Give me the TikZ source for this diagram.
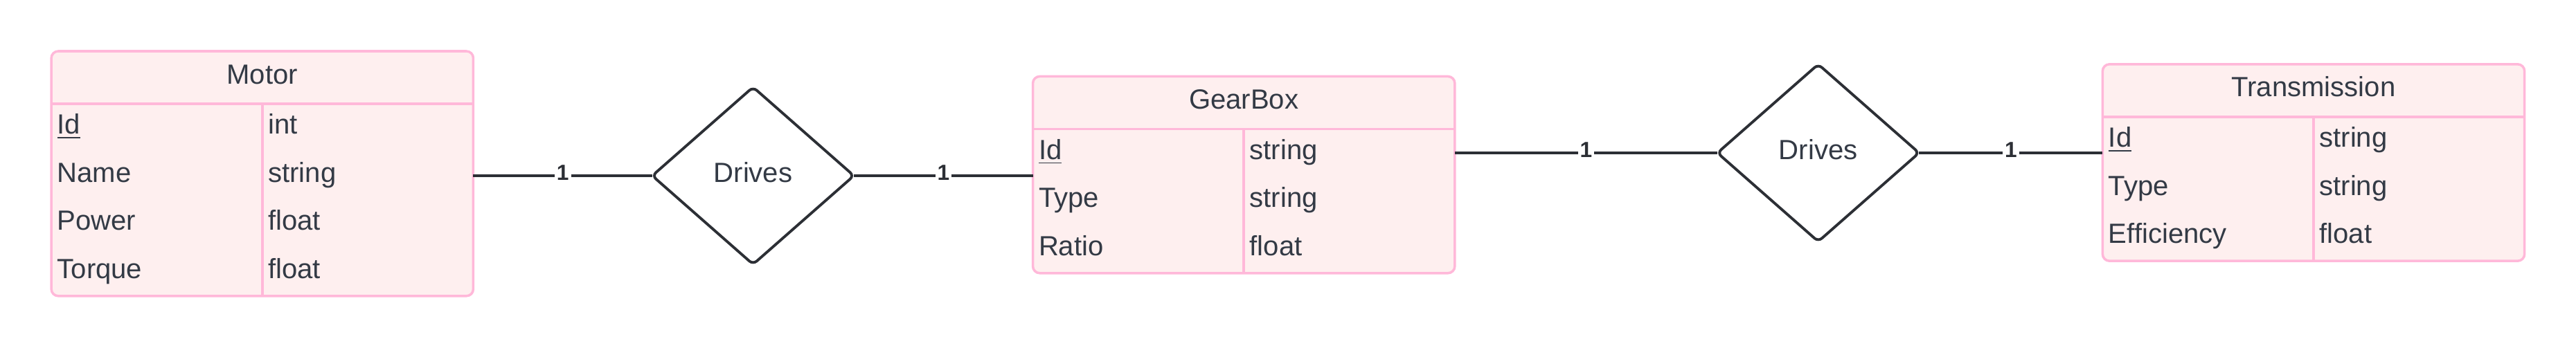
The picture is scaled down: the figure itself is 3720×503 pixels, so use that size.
\documentclass[tikz,border=0pt]{standalone}
\usepackage{fontspec}
\setmainfont{Liberation Sans}
\usetikzlibrary{positioning,shapes.geometric}

\definecolor{entborder}{HTML}{FFB8D9}
\definecolor{entfill}{HTML}{FEEFEF}
\definecolor{inktext}{HTML}{333A45}
\definecolor{inkline}{HTML}{2C2F35}

\begin{document}
\begin{tikzpicture}[
    x=0.01cm, y=-0.01cm,
    entity/.style={
        rectangle, rounded corners=0.1cm,
        minimum width=6.09cm,
        draw=entborder, fill=entfill, line width=1pt,
        inner sep=0pt, outer sep=0pt
    },
    cell/.style={
        inner ysep=0pt, outer sep=0pt,
        text height=0.30cm, text depth=0.12cm,
        text=inktext,
        font=\fontsize{11.4}{13.7}\selectfont
    },
    head/.style={cell, minimum width=6.09cm, minimum height=0.76cm, inner xsep=0pt},
    attr/.style={cell, minimum height=0.694cm, text width=2.875cm, inner xsep=0.085cm, align=left},
    sep/.style={draw=entborder, line width=1pt},
    rel/.style={
        diamond, rounded corners=0.07cm,
        minimum width=2.91cm, minimum height=2.56cm,
        draw=inkline, fill=white, line width=1.1pt,
        inner sep=0pt, outer sep=0pt,
        text height=0.30cm, text depth=0.12cm, text=inktext,
        font=\fontsize{11.4}{13.7}\selectfont
    },
    link/.style={draw=inkline, line width=1pt},
    card/.style={fill=white, inner xsep=0.03cm, inner ysep=0pt, yshift=0.04cm,
        text=inkline, font=\fontsize{9}{11}\selectfont\bfseries}
]
\useasboundingbox (0,0) rectangle (3720,503);

% --- Motor ---
\node[entity, minimum height=3.536cm] (motor) at (378.8,250.9) {};
\node[head, below=0pt of motor.north] (motor-h) {Motor};
\draw[sep] (motor-h.south west) -- (motor-h.south east);
\node[attr, below right=0pt of motor-h.south west] (motor-k1) {\underline{Id}};
\node[attr, below=0pt of motor-k1] (motor-k2) {Name};
\node[attr, below=0pt of motor-k2] (motor-k3) {Power};
\node[attr, below=0pt of motor-k3] (motor-k4) {Torque};
\node[attr, right=0pt of motor-k1] (motor-v1) {int};
\node[attr, right=0pt of motor-k2] (motor-v2) {string};
\node[attr, right=0pt of motor-k3] (motor-v3) {float};
\node[attr, right=0pt of motor-k4] (motor-v4) {float};
\draw[sep] (motor-v1.north west) -- (motor-v1.north west |- motor.south);

% --- GearBox ---
\node[entity, minimum height=2.842cm] (gearbox) at (1796.2,252.6) {};
\node[head, below=0pt of gearbox.north] (gearbox-h) {GearBox};
\draw[sep] (gearbox-h.south west) -- (gearbox-h.south east);
\node[attr, below right=0pt of gearbox-h.south west] (gearbox-k1) {\underline{Id}};
\node[attr, below=0pt of gearbox-k1] (gearbox-k2) {Type};
\node[attr, below=0pt of gearbox-k2] (gearbox-k3) {Ratio};
\node[attr, right=0pt of gearbox-k1] (gearbox-v1) {string};
\node[attr, right=0pt of gearbox-k2] (gearbox-v2) {string};
\node[attr, right=0pt of gearbox-k3] (gearbox-v3) {float};
\draw[sep] (gearbox-v1.north west) -- (gearbox-v1.north west |- gearbox.south);

% --- Transmission ---
\node[entity, minimum height=2.842cm] (trans) at (3341,235) {};
\node[head, below=0pt of trans.north] (trans-h) {Transmission};
\draw[sep] (trans-h.south west) -- (trans-h.south east);
\node[attr, below right=0pt of trans-h.south west] (trans-k1) {\underline{Id}};
\node[attr, below=0pt of trans-k1] (trans-k2) {Type};
\node[attr, below=0pt of trans-k2] (trans-k3) {Efficiency};
\node[attr, right=0pt of trans-k1] (trans-v1) {string};
\node[attr, right=0pt of trans-k2] (trans-v2) {string};
\node[attr, right=0pt of trans-k3] (trans-v3) {float};
\draw[sep] (trans-v1.north west) -- (trans-v1.north west |- trans.south);

% --- Relationships ---
\node[rel] (drives1) at (1087.5,254) {Drives};
\node[rel] (drives2) at (2625.7,221) {Drives};

% --- Connectors ---
\draw[link] (motor.east |- drives1.west) -- node[card]{1} (drives1.west);
\draw[link] (drives1.east) -- node[card]{1} (gearbox.west |- drives1.east);
\draw[link] (gearbox.east |- drives2.west) -- node[card]{1} (drives2.west);
\draw[link] (drives2.east) -- node[card]{1} (trans.west |- drives2.east);

\end{tikzpicture}
\end{document}
